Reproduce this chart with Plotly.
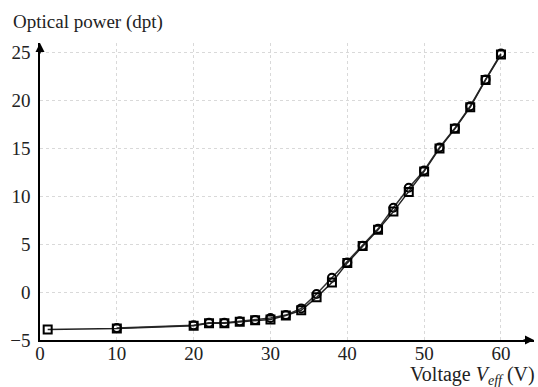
import plotly.graph_objects as go

# Series A (square markers)
volt_a = [1, 10, 20, 22, 24, 26, 28, 30, 32, 34, 36, 38, 40, 42, 44, 46, 48, 50, 52, 54, 56, 58, 60]
power_a = [-3.9, -3.8, -3.5, -3.25, -3.25, -3.1, -2.95, -2.85, -2.45, -1.9, -0.55, 1.0, 3.05, 4.8, 6.5, 8.4, 10.45, 12.6, 15.0, 17.05, 19.3, 22.15, 24.8]
# Series B (circle markers)
volt_b = [10, 20, 22, 24, 26, 28, 30, 32, 34, 36, 38, 40, 42, 44, 46, 48, 50, 52, 54, 56, 58, 60]
power_b = [-3.75, -3.45, -3.2, -3.2, -3.05, -2.9, -2.7, -2.4, -1.7, -0.2, 1.5, 3.1, 4.85, 6.6, 8.8, 10.9, 12.7, 15.1, 17.1, 19.4, 22.2, 24.9]

x_ticks = [0, 10, 20, 30, 40, 50, 60]
y_ticks = [-5, 0, 5, 10, 15, 20, 25]

FONT = "Liberation Serif"

fig = go.Figure()
fig.add_trace(go.Scatter(
    x=volt_b, y=power_b, mode="lines+markers",
    line=dict(color="#333333", width=1.5),
    marker=dict(symbol="circle-open", size=8, color="black", line=dict(width=2, color="black")),
    showlegend=False, hoverinfo="skip"))
fig.add_trace(go.Scatter(
    x=volt_a, y=power_a, mode="lines+markers",
    line=dict(color="#222222", width=1.5),
    marker=dict(symbol="square-open", size=8, color="black", line=dict(width=2, color="black")),
    showlegend=False, hoverinfo="skip"))

axis_common = dict(
    showline=True, linecolor="black", linewidth=1.5,
    showgrid=True, gridcolor="#d9d9d9", griddash="dot", gridwidth=1,
    zeroline=False, ticks="", tickfont=dict(family=FONT, size=19, color="#222222"),
)

fig.update_xaxes(range=[0, 64.3], tickvals=x_ticks, ticktext=[str(v) for v in x_ticks],
                 ticklabelstandoff=-5, **axis_common)
fig.update_yaxes(range=[-5, 26], tickvals=y_ticks, ticktext=[str(v).replace("-", "\u2212") for v in y_ticks],
                 ticklabelstandoff=4, **axis_common)

# axis arrows
fig.add_annotation(x=1.0, y=0, xref="paper", yref="paper", ax=-12, ay=0, axref="pixel", ayref="pixel",
                   text="", showarrow=True, arrowhead=2, arrowsize=1.2, arrowwidth=1.5, arrowcolor="black")
fig.add_annotation(x=0, y=1.0, xref="paper", yref="paper", ax=0, ay=12, axref="pixel", ayref="pixel",
                   text="", showarrow=True, arrowhead=2, arrowsize=1.2, arrowwidth=1.5, arrowcolor="black")

# axis titles
fig.add_annotation(x=-0.058, y=1.072, xref="paper", yref="paper", xanchor="left", yanchor="middle",
                   text="Optical power (dpt)", showarrow=False,
                   font=dict(family=FONT, size=19, color="#222222"))
fig.add_annotation(x=0.745, y=-0.118, xref="paper", yref="paper", xanchor="left", yanchor="middle",
                   text="Voltage <i>V</i><sub><i>eff</i></sub> (V)", showarrow=False,
                   font=dict(family=FONT, size=20, color="#222222"))

fig.update_layout(
    width=538, height=387,
    margin=dict(l=40, r=4, t=43, b=47),
    plot_bgcolor="white", paper_bgcolor="white",
    font=dict(family=FONT, size=19, color="#222222"),
)

fig.write_html("out.html")
